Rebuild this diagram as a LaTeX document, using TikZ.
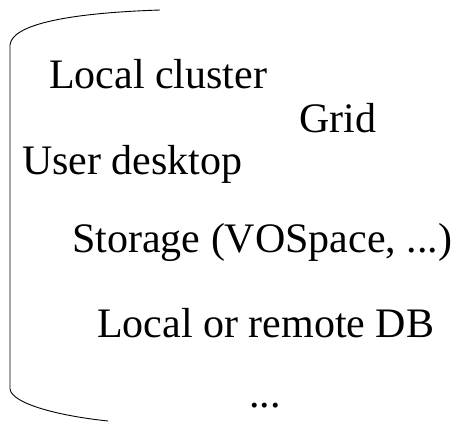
\documentclass[tikz,border=0pt]{standalone}
\usepackage{fontspec}
\setmainfont{Liberation Serif}
\begin{document}
\begin{tikzpicture}[x=1pt,y=-1pt,
  lbl/.style={anchor=base west,inner sep=0pt,font=\fontsize{42}{48}\selectfont},
  brace/.style={draw=black,line width=0.9pt}]
\useasboundingbox (0,0) rectangle (463,423);
\coordinate (tA) at (160,10);
\coordinate (tB) at (10,45);
\coordinate (bA) at (10,389);
\coordinate (bB) at (108,421);
\draw[brace] (tA) .. controls (70,13) and (12,24) .. (tB) -- (bA) .. controls (12,404) and (60,416) .. (bB);
\node[lbl] (lc) at (49,88) {Local cluster};
\node[lbl] (grid) at (299,132) {Grid};
\node[lbl] (ud) at (22,174) {User desktop};
\node[lbl] (st) at (72,252) {Storage (VOSpace, ...)};
\node[lbl] (db) at (97,337) {Local or remote DB};
\node[lbl] (dots) at (249,407) {...};
\end{tikzpicture}
\end{document}
